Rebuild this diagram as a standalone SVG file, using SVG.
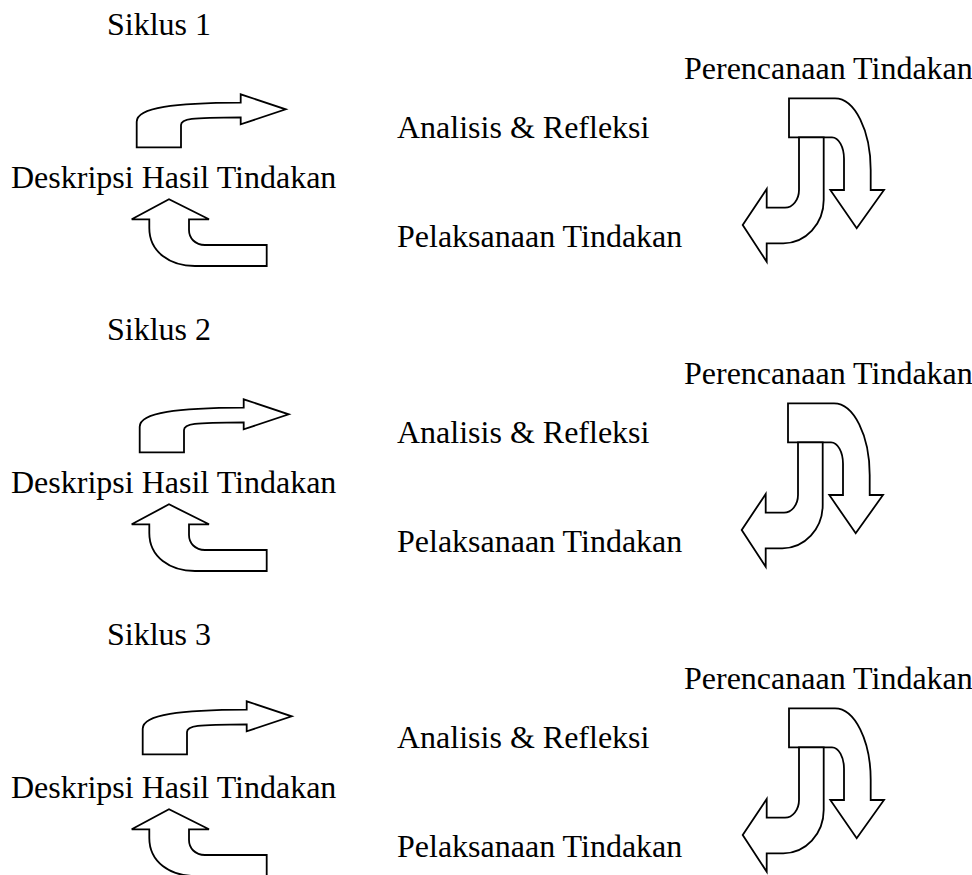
<svg xmlns="http://www.w3.org/2000/svg" width="972" height="875" viewBox="0 0 972 875">
<style>
text{font-family:"Liberation Serif","Times New Roman",serif;font-size:32px;fill:#000}
.ar{fill:#fff;stroke:#000;stroke-width:1.8;stroke-linejoin:miter}
</style>
<defs>
<path id="bentRight" class="ar" d="M136.7,147.3 L136.7,121.7 C136.7,107 175,103 240.7,102.7 L240.7,94.3 L285.7,109.3 L240.7,124.3 L240.7,117.3 C190,117.5 181,119 181,125 L181,147.3 Z"/>
<path id="uturnUp" class="ar" d="M149.3,219.3 L149.3,228 C149.3,252 170,266 195,266 L266.7,266 L266.7,245 L205,245 C195,245 189,238 189,230 L189,219.3 L209,219.3 L169,199.3 L131.7,219.3 Z"/>
<path id="uturnDown" class="ar" d="M789,98.3 L835,98.3 A35.7,71.7 0 0 1 870.7,170 L870.7,190 L884,190 L856.7,228.3 L830.3,190 L844,190 L844,158.7 A12,21.4 0 0 0 832,137.3 L789,137.3 Z"/>
<path id="curveLeft" class="ar" d="M799,137.3 L799,190 A14,17.7 0 0 1 785,207.7 L766.7,207.7 L766.7,189 L742.7,225 L766.7,261.7 L766.7,243.3 L783.3,243.3 A40.4,43.3 0 0 0 823.7,200 L823.7,137.3 Z"/>
</defs>
<g id="cycle1">
  <g id="siklus1"><text x="107" y="35">Siklus 1</text></g>
  <g id="perencanaan1"><text x="684" y="79">Perencanaan Tindakan</text></g>
  <g id="analisis1"><text x="397" y="138">Analisis &amp; Refleksi</text></g>
  <g id="deskripsi1"><text x="11" y="188">Deskripsi Hasil Tindakan</text></g>
  <g id="pelaksanaan1"><text x="397" y="247">Pelaksanaan Tindakan</text></g>
</g>
<g id="cycle2">
  <g id="siklus2"><text x="107" y="340">Siklus 2</text></g>
  <g id="perencanaan2"><text x="684" y="384">Perencanaan Tindakan</text></g>
  <g id="analisis2"><text x="397" y="443">Analisis &amp; Refleksi</text></g>
  <g id="deskripsi2"><text x="11" y="493">Deskripsi Hasil Tindakan</text></g>
  <g id="pelaksanaan2"><text x="397" y="552">Pelaksanaan Tindakan</text></g>
</g>
<g id="cycle3">
  <g id="siklus3"><text x="107" y="645">Siklus 3</text></g>
  <g id="perencanaan3"><text x="684" y="689">Perencanaan Tindakan</text></g>
  <g id="analisis3"><text x="397" y="748">Analisis &amp; Refleksi</text></g>
  <g id="deskripsi3"><text x="11" y="798">Deskripsi Hasil Tindakan</text></g>
  <g id="pelaksanaan3"><text x="397" y="857">Pelaksanaan Tindakan</text></g>
</g>
<g id="connectors">
  <use href="#bentRight"/>
  <use href="#uturnUp"/>
  <use href="#uturnDown"/>
  <use href="#curveLeft"/>
  <use href="#bentRight" transform="translate(3,305)"/>
  <use href="#uturnUp" transform="translate(0,305)"/>
  <use href="#uturnDown" transform="translate(-1,305)"/>
  <use href="#curveLeft" transform="translate(-1,305)"/>
  <use href="#bentRight" transform="translate(6,607)"/>
  <use href="#uturnUp" transform="translate(0,610)"/>
  <use href="#uturnDown" transform="translate(0,610)"/>
  <use href="#curveLeft" transform="translate(0,610)"/>
</g>
</svg>
